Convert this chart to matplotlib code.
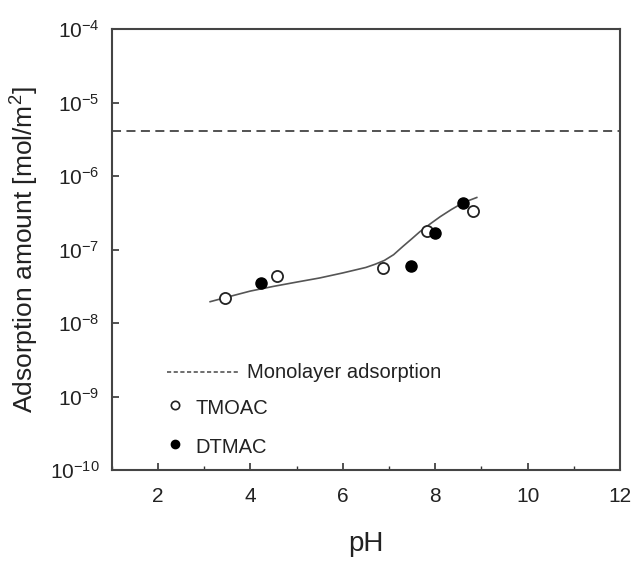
import matplotlib
matplotlib.use("Agg")
import matplotlib.pyplot as plt
from matplotlib.ticker import LogLocator, NullLocator, MultipleLocator

plt.rcParams["font.family"] = ["Liberation Sans", "DejaVu Sans"]
plt.rcParams["mathtext.default"] = "regular"

# measured adsorption vs pH
ph_tmoac = [3.46, 4.58, 6.86, 7.82, 8.82]
ads_tmoac = [2.2e-8, 4.3e-8, 5.6e-8, 1.8e-7, 3.3e-7]

ph_dtmac = [4.24, 7.48, 8.00, 8.60]
ads_dtmac = [3.5e-8, 6.0e-8, 1.7e-7, 4.3e-7]

# guide-to-the-eye curve
ph_fit = [3.13, 3.5, 4.0, 4.5, 5.0, 5.5, 6.0, 6.5, 6.7, 6.9, 7.1, 7.3, 7.5,
          7.67, 7.9, 8.11, 8.35, 8.61, 8.9]
ads_fit = [1.95e-8, 2.25e-8, 2.72e-8, 3.15e-8, 3.6e-8, 4.1e-8, 4.8e-8, 5.7e-8,
           6.3e-8, 7.1e-8, 8.5e-8, 1.1e-7, 1.41e-7, 1.75e-7, 2.25e-7, 2.8e-7,
           3.5e-7, 4.35e-7, 5.1e-7]

monolayer = 4.1e-6

fig = plt.figure(figsize=(6.33, 5.61), dpi=100)
ax = fig.add_axes([0.1765, 0.1622, 0.803, 0.7861])

ax.axhline(monolayer, color="#444444", lw=1.3, ls=(0, (5, 3)))
ax.plot(ph_fit, ads_fit, color="#555555", lw=1.2)
ax.plot(ph_tmoac, ads_tmoac, "o", ms=8, mfc="white", mec="#222222", mew=1.3)
ax.plot(ph_dtmac, ads_dtmac, "o", ms=8, mfc="black", mec="black")

ax.set_yscale("log")
ax.set_xlim(1, 12)
ax.set_ylim(1e-10, 1e-4)
ax.xaxis.set_major_locator(MultipleLocator(2))
ax.xaxis.set_minor_locator(MultipleLocator(1))
ax.yaxis.set_major_locator(LogLocator(base=10, numticks=10))
ax.yaxis.set_minor_locator(NullLocator())

ax.tick_params(which="both", direction="in", colors="#333333", labelcolor="#222222")
ax.tick_params(which="major", length=5, width=1.2, labelsize=15, pad=9)
ax.tick_params(which="minor", length=3, width=1.0)
ax.tick_params(axis="x", which="major", pad=12)
for s in ax.spines.values():
    s.set_color("#444444")
    s.set_linewidth(1.5)

ax.set_xlabel("pH", fontsize=20, color="#222222", labelpad=18)
ax.set_ylabel("Adsorption amount [mol/m$^2$]", fontsize=19, color="#222222", labelpad=6)

# hand-placed key inside the axes
tr = ax.transAxes
ax.plot([0.109, 0.249], [0.222, 0.222], transform=tr, color="#555555", lw=1.2, ls=(0, (2.5, 1.5)))
ax.text(0.266, 0.222, "Monolayer adsorption", transform=tr, fontsize=14.5,
        va="center", ha="left", color="#222222")
ax.plot([0.125], [0.147], "o", transform=tr, ms=6, mfc="white", mec="#222222", mew=1.2)
ax.text(0.164, 0.14, "TMOAC", transform=tr, fontsize=14.5, va="center", ha="left", color="#222222")
ax.plot([0.125], [0.059], "o", transform=tr, ms=6, mfc="black", mec="black")
ax.text(0.164, 0.052, "DTMAC", transform=tr, fontsize=14.5, va="center", ha="left", color="#222222")

fig.savefig("out.png", dpi=100)
